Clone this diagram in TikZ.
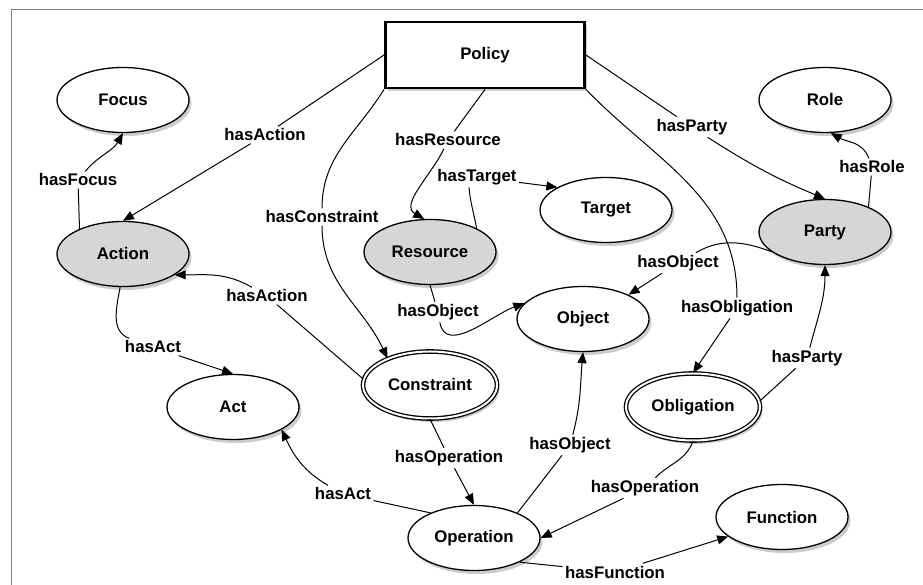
\documentclass[tikz,border=0pt]{standalone}
\usepackage{fontspec}
\setmainfont{Liberation Sans}
\usetikzlibrary{shapes.geometric,arrows.meta,shadows}
\definecolor{clsgray}{RGB}{212,214,216}
\begin{document}
\begin{tikzpicture}[x=1pt,y=1pt,line width=1pt,
    every node/.style={font=\fontsize{16.8}{20}\selectfont\bfseries},
    shad/.style={drop shadow={shadow xshift=2.5pt,shadow yshift=-3.5pt,opacity=0.4}},
    cls/.style={ellipse,draw,line width=1.3pt,fill=white,minimum width=132pt,minimum height=65pt,shad},
    gcls/.style={cls,fill=clsgray},
    dcls/.style={cls,double,double distance=2pt,minimum width=134pt,minimum height=67pt},
    lbl/.style={inner sep=2pt},
    rel/.style={-{Triangle[length=11pt,width=9pt]}}]
  \useasboundingbox (0,0) rectangle (923,585);
  \draw[gray,line width=1pt] (11,0) -- (11,575) -- (923,575);

  \node[draw,line width=2.8pt,fill=white,minimum width=199pt,minimum height=66pt,shad] (pol) at (485,530) {Policy};
  \node[cls]  (foc)  at (123,485) {Focus};
  \node[gcls] (act)  at (123,331) {Action};
  \node[gcls] (res)  at (430,333) {Resource};
  \node[cls]  (tgt)  at (606,375) {Target};
  \node[cls]  (rol)  at (825,485) {Role};
  \node[gcls] (par)  at (825,353) {Party};
  \node[cls]  (obj)  at (583,266) {Object};
  \node[dcls] (con)  at (430,200) {Constraint};
  \node[cls]  (actx) at (233,178) {Act};
  \node[dcls] (obl)  at (693,178) {Obligation};
  \node[cls]  (ope)  at (474,47)  {Operation};
  \node[cls]  (fun)  at (782,68)  {Function};

  \node[lbl] (l1)  at (265,450) {hasAction};
  \node[lbl] (l2)  at (78,405)  {hasFocus};
  \node[lbl] (l3)  at (322,368) {hasConstraint};
  \node[lbl] (l4)  at (448,445) {hasResource};
  \node[lbl] (l5)  at (477,408) {hasTarget};
  \node[lbl] (l6)  at (692,458) {hasParty};
  \node[lbl] (l7)  at (872,418) {hasRole};
  \node[lbl] (l8)  at (678,322) {hasObject};
  \node[lbl] (l9)  at (737,277) {hasObligation};
  \node[lbl] (l10) at (807,227) {hasParty};
  \node[lbl] (l11) at (438,273) {hasObject};
  \node[lbl] (l12) at (267,289) {hasAction};
  \node[lbl] (l13) at (153,238) {hasAct};
  \node[lbl] (l14) at (449,127) {hasOperation};
  \node[lbl] (l15) at (570,140) {hasObject};
  \node[lbl] (l16) at (645,97)  {hasOperation};
  \node[lbl] (l17) at (343,91)  {hasAct};
  \node[lbl] (l18) at (615,13)  {hasFunction};

  \draw (pol.west) -- (l1);
  \draw[rel] (l1) -- (act.north);
  \draw (act.150) -- (l2);
  \draw[rel] (l2) to[out=50,in=-120] (foc.south);
  \draw (pol.south west) to[out=-122,in=90] (l3);
  \draw[rel] (l3) to[out=-90,in=115] (con.148);
  \draw (pol.south) -- (l4);
  \draw[rel] (l4) to[out=-115,in=150] (res.100);
  \draw (res.27) to[out=100,in=-85] ([xshift=-8pt]l5.south);
  \draw[rel] (l5) -- (tgt.155);
  \draw (pol.east) -- (l6);
  \draw[rel] (l6) to[bend right=5] (par.north);
  \draw (par.30) -- (l7);
  \draw[rel] (l7) to[out=110,in=-30] (rol.-80);
  \draw (par.200) to[out=160,in=30] (l8);
  \draw[rel] (l8) -- (obj.28);
  \draw (pol.south east) to[out=-46,in=90] (l9);
  \draw[rel] (l9) -- (obl.north);
  \draw (obl.5) -- (l10);
  \draw[rel] (l10) to[out=75,in=-90] (par.south);
  \draw (res.south) -- (l11);
  \draw[rel] (l11) to[out=-80,in=200] (obj.165);
  \draw (con.175) -- (l12);
  \draw[rel] (l12) to[out=150,in=0] (act.-22);
  \draw (act.-95) to[out=-100,in=160] (l13);
  \draw[rel] (l13) -- (actx.north);
  \draw (con.south) -- (l14);
  \draw[rel] (l14) -- (ope.north);
  \draw (ope.30) -- (l15);
  \draw[rel] (l15) to[out=75,in=-95] (obj.south);
  \draw (obl.south) to[out=-110,in=45] (l16);
  \draw[rel] (l16) -- (ope.east);
  \draw (ope.150) -- (l17);
  \draw[rel] (l17) to[out=150,in=-65] (actx.-25);
  \draw (ope.-28) -- (l18);
  \draw[rel] (l18) -- (fun.200);
\end{tikzpicture}
\end{document}
